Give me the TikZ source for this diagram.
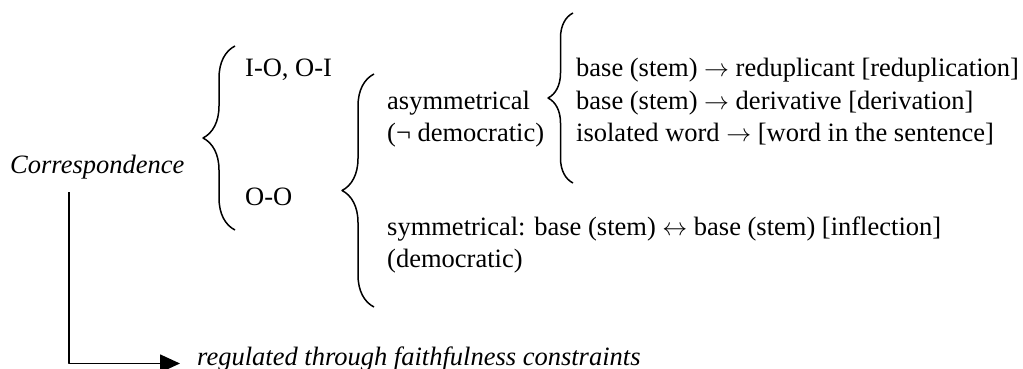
\documentclass[tikz,border=0pt]{standalone}
\usepackage{fontspec}
\setmainfont{Liberation Serif}
\usepackage{tikz}
\usetikzlibrary{arrows.meta, decorations.pathreplacing, positioning}

\begin{document}
\begin{tikzpicture}[x=1pt,y=-1pt,line join=round,
		txt/.style={anchor=base west,inner sep=0pt,font=\fontsize{26.5}{32}\selectfont},
		brc/.style={decorate,decoration={brace,amplitude=#1},line width=1.5pt},
		flow/.style={line width=1.6pt,-{Triangle[length=20pt,width=18pt]}}]
		\useasboundingbox (0,0) rectangle (1023,369);
		\begin{scope}
		% first level
		\node[txt] (corr) at (10,173) {\itshape Correspondence};
		\node[txt] (io)   at (245,77)  {I-O, O-I};
		\node[txt] (oo)   at (245,205) {O-O};
		% second level
		\node[txt] (asym) at (387,109) {asymmetrical};
		\node[txt] (nodem) at (387,141) {(¬ democratic)};
		\node[txt] (sym)  at (387,235) {symmetrical: base (stem) $\leftrightarrow$ base (stem) [inflection]};
		\node[txt] (dem)  at (387,267) {(democratic)};
		% third level
		\node[txt] (redup) at (576,77)  {base (stem) $\rightarrow$ reduplicant [reduplication]};
		\node[txt] (deriv) at (576,109) {base (stem) $\rightarrow$ derivative [derivation]};
		\node[txt] (sent)  at (576,141) {isolated word $\rightarrow$ [word in the sentence]};
		\node[txt] (reg)   at (197,365) {\itshape regulated through faithfulness constraints};
		% braces
		\coordinate (b1s) at (235,230); \coordinate (b1e) at (235,46);
		\coordinate (b2s) at (374,307); \coordinate (b2e) at (374,74);
		\coordinate (b3s) at (573,183); \coordinate (b3e) at (573,13);
		\draw[brc=32pt] (b1s) -- (b1e);
		\draw[brc=32pt] (b2s) -- (b2e);
		\draw[brc=25pt] (b3s) -- (b3e);
		% arrow
		\coordinate (cstart) at (69,192);
		\draw[flow] (cstart) |- ([xshift=-17pt,yshift=-5pt]reg.west);
		\end{scope}
	\end{tikzpicture}
\end{document}
